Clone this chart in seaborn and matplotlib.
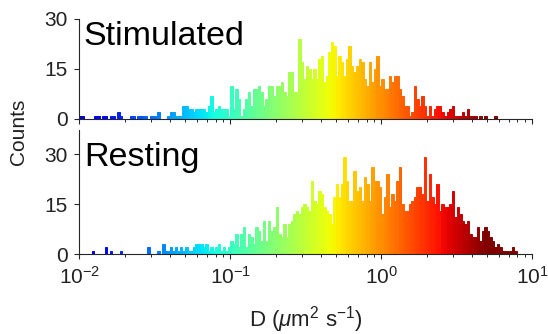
import numpy as np
import matplotlib
matplotlib.use("Agg")
import matplotlib.pyplot as plt
import seaborn as sns
from matplotlib.colors import Normalize

# ---- data: histogram counts per log-spaced bin (60 bins per decade, 1e-2 .. 1e1)
log_lo, log_hi = -2.0, 1.0

stimulated = [
    1, 1, 0, 0, 0, 0, 1, 1, 0, 1, 1, 0, 1, 1, 0, 2, 1, 0, 0, 0,
    1, 1, 0, 1, 1, 1, 1, 0, 1, 1, 1, 2, 0, 0, 0, 1, 2, 2, 1, 1,
    1, 4, 4, 3, 3, 2, 3, 3, 3,
    3, 2, 4, 7, 2, 3, 4, 3, 3, 3, 1, 10, 3, 9, 6, 1, 3, 6, 8, 4,
    9, 9, 10, 8, 4, 6, 10, 10, 7, 10, 10, 11, 8, 7, 14,
    14, 8, 8, 24,
    17, 12, 16, 15, 12, 15, 12, 18, 19, 11, 13, 20, 23, 22,
    13, 19, 17, 13, 18, 22, 16, 14, 16, 18, 17, 12, 10, 17, 11, 15, 19, 10,
    12, 9, 9, 13, 11, 13, 13, 9, 7, 4, 4, 1, 2, 10, 6, 4, 7, 4, 1, 4,
    1, 3, 4, 4, 2, 1, 2, 3, 4, 1, 1, 1, 2, 1, 3, 1, 1, 1, 0, 1,
    0, 1, 0, 0, 0, 1,
    0, 0, 0, 0, 0, 0, 0, 0, 0, 0, 0, 0, 0, 0,
]

resting = [
    0, 0, 0, 0, 0, 1, 0, 0, 0, 0, 2, 0, 1, 0, 0, 0, 1, 0, 0, 0,
    0, 0, 0, 0, 0, 0, 0, 2, 0, 0, 0, 1, 0, 3, 1, 1, 2, 1, 2, 1,
    2, 1, 2, 1, 1, 2, 3, 3,
    3, 2, 3, 1, 2, 1, 2, 3,
    1, 2, 1, 2, 4, 3, 6, 2, 6, 8, 2, 6, 5, 3, 8, 7, 4, 10, 4, 10,
    7, 8, 14, 6, 5, 9, 5, 9,
    10, 12, 13, 12, 14, 15, 14, 13, 22,
    16, 15, 19, 18, 14, 13, 12, 9, 17, 21, 17, 21, 29, 22, 16, 16, 25,
    19, 20, 16, 23, 21, 16, 26, 22, 22,
    20, 12, 17, 24, 14, 18, 16, 22, 26, 15, 13, 13, 15, 16, 17, 20, 20, 18, 29, 16,
    24, 17, 15, 21, 13, 15, 14, 14, 15, 19,
    11, 14, 12, 10, 9, 10, 6, 5, 5, 8, 4, 7, 8, 7, 5, 4, 2, 3, 2, 1,
    1, 1, 1, 2, 1,
    0, 0, 0, 0, 0, 0,
]

panel_labels = ["Stimulated", "Resting"]
y_ticks = [0, 15, 30]

n_bins = len(stimulated)
edges = np.logspace(log_lo, log_hi, n_bins + 1)
centers = np.sqrt(edges[:-1] * edges[1:])

sns.set_theme(style="ticks")
plt.rcParams["font.family"] = ["Liberation Sans", "DejaVu Sans"]
plt.rcParams["mathtext.fontset"] = "custom"
plt.rcParams["mathtext.rm"] = "Liberation Sans"
plt.rcParams["mathtext.it"] = "Liberation Sans:italic"

fig = plt.figure(figsize=(5.48, 3.34), dpi=100)
W, H = 548.0, 334.0
x0, x1 = 79.4, 532.0
ax_top = fig.add_axes([x0 / W, 1 - 119 / H, (x1 - x0) / W, 100 / H])
ax_bot = fig.add_axes([x0 / W, 1 - 254 / H, (x1 - x0) / W, 124 / H])

cmap = plt.get_cmap("jet")
norm = Normalize(-2.2, 0.7)
axis_col = "#262626"

for ax, counts, label, ymax, label_y in [
    (ax_top, stimulated, panel_labels[0], 30, 22.2),
    (ax_bot, resting, panel_labels[1], 37.2, 26.4),
]:
    sns.histplot(x=centers, weights=counts, bins=n_bins, binrange=(log_lo, log_hi),
                 log_scale=True, ax=ax, element="bars", fill=True, stat="count",
                 linewidth=0.7, alpha=1)
    nz = [i for i, c in enumerate(counts) if c > 0]
    first, last = nz[0], nz[-1]
    for i, p in enumerate(ax.patches):
        xl = p.get_x()
        xr = xl + p.get_width()
        lc = 0.5 * (np.log10(xl) + np.log10(xr))
        col = cmap(norm(lc))
        p.set_facecolor(col)
        p.set_edgecolor(col)
        if i < first or i > last:
            p.set_linewidth(0)
    ax.set_xlim(10 ** log_lo, 10 ** log_hi)
    ax.set_ylim(0, ymax)
    ax.set_yticks(y_ticks)
    ax.set_ylabel("")
    ax.set_xlabel("")
    ax.tick_params(axis="both", which="major", direction="out", length=3.5,
                   width=0.8, color=axis_col, labelsize=15, labelcolor="#222222")
    ax.tick_params(axis="y", which="major", pad=5)
    ax.tick_params(axis="x", which="major", pad=5)
    ax.tick_params(axis="x", which="minor", direction="out", length=2.2,
                   width=0.7, color=axis_col)
    for s in ["top", "right"]:
        ax.spines[s].set_visible(False)
    for s in ["left", "bottom"]:
        ax.spines[s].set_color(axis_col)
        ax.spines[s].set_linewidth(0.8)
    ax.text(0.01, label_y, label, transform=ax.get_yaxis_transform(),
            fontsize=24.5, color="black", va="baseline", ha="left")

ax_top.tick_params(axis="x", which="both", labelbottom=False)
ax_bot.set_xlabel(r"D ($\mu$m$^2$ s$^{-1}$)", fontsize=16, color="#222222", labelpad=12)
fig.text(0.033, 1 - 132 / H, "Counts", rotation=90, fontsize=15, color="#222222",
         ha="center", va="center")

fig.savefig("out.png", dpi=100)
